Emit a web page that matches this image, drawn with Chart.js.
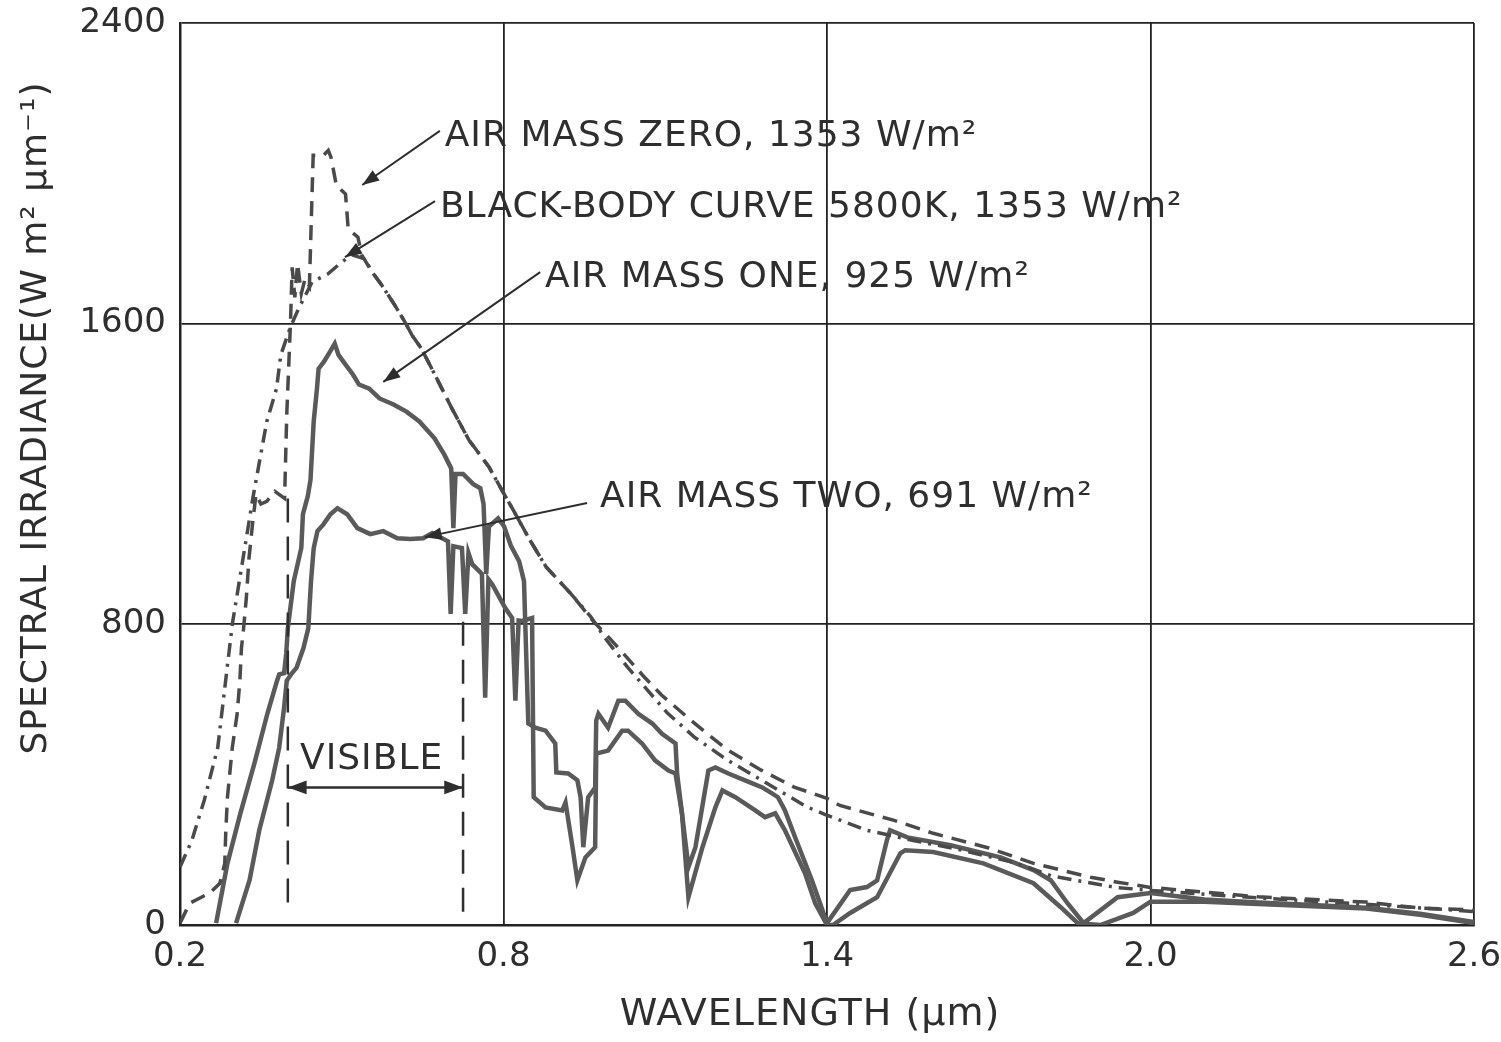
<!DOCTYPE html>
<html>
<head>
<meta charset="utf-8">
<script src="https://cdn.jsdelivr.net/npm/chart.js@4.4.1/dist/chart.umd.min.js"></script>
<style>
  html, body { margin: 0; padding: 0; background: #fff; }
</style>
</head>
<body>
<canvas id="myChart" width="1501" height="1042"></canvas>
<script>
// Spectral irradiance (W m-2 um-1) against wavelength (um)

// Air mass zero (dashed)
const am0Wl  = [0.20, 0.218, 0.237, 0.255, 0.274, 0.283, 0.285, 0.288, 0.297, 0.306, 0.311, 0.314, 0.318, 0.323, 0.328, 0.335, 0.341, 0.35, 0.361, 0.376, 0.394, 0.398, 0.405, 0.408, 0.413, 0.418, 0.425, 0.432, 0.44, 0.447, 0.466, 0.475, 0.48, 0.49, 0.507, 0.512, 0.53, 0.537, 0.556, 0.574, 0.598, 0.617, 0.63, 0.648, 0.671, 0.703, 0.736, 0.773, 0.797, 0.815, 0.849, 0.879, 0.924, 0.968, 1.0, 1.03, 1.061, 1.093, 1.154, 1.215, 1.278, 1.339, 1.40, 1.424, 1.523, 1.597, 1.70, 1.783, 1.889, 1.939, 2.0, 2.2, 2.4, 2.5, 2.6];
const am0Val = [5, 58, 72, 85, 111, 164, 252, 340, 472, 562, 650, 737, 790, 870, 976, 1074, 1146, 1120, 1127, 1154, 1135, 1358, 1605, 1750, 1670, 1760, 1680, 1720, 1700, 2048, 2048, 2061, 2043, 1968, 1945, 1852, 1830, 1783, 1738, 1703, 1650, 1605, 1570, 1533, 1469, 1378, 1290, 1219, 1157, 1112, 1024, 953, 883, 806, 758, 710, 660, 612, 537, 466, 412, 367, 337, 318, 279, 244, 205, 164, 127, 114, 100, 75, 61, 45, 40];

// Black-body curve 5800 K (dash-dot)
const bbWl  = [0.20, 0.222, 0.245, 0.270, 0.297, 0.335, 0.361, 0.379, 0.387, 0.405, 0.42, 0.445, 0.474, 0.50, 0.519, 0.543, 0.556, 0.574, 0.598, 0.617, 0.63, 0.648, 0.671, 0.703, 0.736, 0.773, 0.797, 0.815, 0.849, 0.879, 0.924, 0.962, 0.987, 1.03, 1.067, 1.104, 1.154, 1.215, 1.278, 1.363, 1.40, 1.474, 1.56, 1.647, 1.75, 1.818, 1.936, 2.0, 2.2, 2.4, 2.6];
const bbVal = [154, 225, 332, 472, 800, 1135, 1340, 1427, 1517, 1592, 1640, 1711, 1732, 1764, 1783, 1772, 1738, 1703, 1650, 1605, 1570, 1533, 1469, 1378, 1290, 1219, 1157, 1112, 1024, 953, 883, 820, 766, 686, 625, 564, 500, 439, 386, 314, 292, 252, 225, 200, 165, 130, 100, 92, 72, 55, 36];

// Air mass one (solid, upper)
const am1Wl  = [0.267, 0.288, 0.312, 0.338, 0.362, 0.38, 0.384, 0.393, 0.397, 0.40, 0.411, 0.425, 0.428, 0.437, 0.442, 0.448, 0.454, 0.457, 0.467, 0.478, 0.487, 0.494, 0.503, 0.521, 0.532, 0.551, 0.570, 0.596, 0.620, 0.644, 0.672, 0.690, 0.703, 0.707, 0.711, 0.725, 0.744, 0.757, 0.763, 0.768, 0.773, 0.790, 0.801, 0.814, 0.829, 0.838, 0.846, 0.859, 0.878, 0.896, 0.898, 0.920, 0.937, 0.943, 0.948, 0.957, 0.970, 0.972, 0.976, 0.994, 1.013, 1.026, 1.050, 1.076, 1.094, 1.119, 1.122, 1.131, 1.143, 1.156, 1.180, 1.193, 1.217, 1.248, 1.280, 1.298, 1.309, 1.322, 1.341, 1.372, 1.40, 1.443, 1.474, 1.493, 1.511, 1.517, 1.549, 1.629, 1.722, 1.783, 1.815, 1.846, 1.876, 1.939, 2.0, 2.1, 2.2, 2.3, 2.4, 2.5, 2.6];
const am1Val = [5, 164, 297, 430, 562, 650, 667, 670, 722, 790, 915, 1003, 1093, 1141, 1184, 1340, 1427, 1480, 1499, 1525, 1547, 1517, 1499, 1464, 1438, 1427, 1401, 1385, 1366, 1340, 1295, 1252, 1215, 1056, 1200, 1200, 1173, 1162, 1120, 934, 1060, 1082, 1061, 1008, 968, 915, 536, 525, 517, 483, 406, 403, 385, 340, 207, 340, 366, 544, 562, 525, 597, 597, 562, 536, 509, 483, 403, 297, 154, 207, 411, 419, 403, 385, 366, 350, 340, 305, 233, 119, 5, 93, 101, 119, 225, 252, 233, 212, 180, 146, 119, 58, 5, 74, 85, 68, 60, 53, 46, 30, 8];

// Air mass two (solid, lower)
const am2Wl  = [0.304, 0.329, 0.347, 0.371, 0.384, 0.393, 0.398, 0.407, 0.416, 0.429, 0.438, 0.443, 0.448, 0.455, 0.466, 0.479, 0.492, 0.510, 0.529, 0.553, 0.577, 0.603, 0.627, 0.651, 0.668, 0.697, 0.702, 0.707, 0.723, 0.729, 0.735, 0.742, 0.760, 0.766, 0.772, 0.779, 0.803, 0.816, 0.822, 0.828, 0.835, 0.853, 0.856, 0.878, 0.909, 0.915, 0.928, 0.937, 0.952, 0.970, 0.972, 0.994, 1.020, 1.031, 1.057, 1.081, 1.106, 1.119, 1.131, 1.143, 1.169, 1.193, 1.206, 1.230, 1.267, 1.285, 1.304, 1.322, 1.359, 1.378, 1.40, 1.411, 1.443, 1.493, 1.536, 1.545, 1.597, 1.690, 1.783, 1.833, 1.865, 1.907, 1.968, 2.0, 2.1, 2.2, 2.4, 2.5, 2.6];
const am2Val = [5, 119, 252, 385, 472, 578, 650, 669, 684, 737, 790, 915, 1003, 1048, 1066, 1093, 1109, 1093, 1056, 1040, 1048, 1029, 1027, 1029, 1043, 1021, 828, 1008, 1003, 828, 990, 960, 934, 605, 920, 907, 844, 817, 597, 810, 809, 817, 340, 313, 305, 326, 207, 119, 180, 207, 456, 464, 517, 517, 483, 438, 411, 403, 297, 74, 207, 313, 358, 340, 305, 287, 297, 252, 138, 58, 0, 0, 32, 74, 191, 199, 194, 164, 111, 48, 5, 0, 32, 62, 62, 56, 44, 27, 5];

// visible band limits (um)
const visibleBand = [0.40, 0.725];

// axis ticks
const xTicks = [0.2, 0.8, 1.4, 2.0, 2.6];
const yTicks = [0, 800, 1600, 2400];

const pts = (xs, ys) => xs.map((x, i) => ({x: x, y: ys[i]}));

const ink = "#2e2e2e";
const curve = "#5a5a5a";
const FONT = '"DejaVu Sans", "Liberation Sans", sans-serif';

// labels with their pointer lines, in data coordinates
const notes = [
  {text: "AIR MASS ZERO, 1353 W/m²", at: [0.691, 2097], from: [0.682, 2113], to: [0.538, 1969]},
  {text: "BLACK-BODY CURVE 5800K, 1353 W/m²", at: [0.682, 1910], from: [0.673, 1926], to: [0.506, 1777]},
  {text: "AIR MASS ONE, 925 W/m²", at: [0.877, 1722], from: [0.868, 1737], to: [0.577, 1445]},
  {text: "AIR MASS TWO, 691 W/m²", at: [0.979, 1136], from: [0.955, 1123], to: [0.654, 1032]}
];

function arrowHead(ctx, x1, y1, x2, y2, size) {
  const a = Math.atan2(y2 - y1, x2 - x1);
  ctx.beginPath();
  ctx.moveTo(x2, y2);
  ctx.lineTo(x2 - size * Math.cos(a - 0.35), y2 - size * Math.sin(a - 0.35));
  ctx.lineTo(x2 - size * Math.cos(a + 0.35), y2 - size * Math.sin(a + 0.35));
  ctx.closePath();
  ctx.fill();
}

const annotations = {
  id: "annotations",
  afterDatasetsDraw(chart) {
    const ctx = chart.ctx;
    const xs = chart.scales.x, ys = chart.scales.y;
    const area = chart.chartArea;
    ctx.save();
    ctx.fillStyle = ink;
    ctx.strokeStyle = ink;

    // visible band markers
    ctx.lineWidth = 2.5;
    ctx.setLineDash([24, 14]);
    ctx.beginPath();
    ctx.moveTo(xs.getPixelForValue(visibleBand[0]), ys.getPixelForValue(60));
    ctx.lineTo(xs.getPixelForValue(visibleBand[0]), ys.getPixelForValue(1150));
    ctx.moveTo(xs.getPixelForValue(visibleBand[1]), ys.getPixelForValue(35));
    ctx.lineTo(xs.getPixelForValue(visibleBand[1]), ys.getPixelForValue(820));
    ctx.stroke();
    ctx.setLineDash([]);

    // visible arrow
    const ay = ys.getPixelForValue(366);
    const ax1 = xs.getPixelForValue(visibleBand[0]);
    const ax2 = xs.getPixelForValue(visibleBand[1]);
    ctx.lineWidth = 2.5;
    ctx.beginPath();
    ctx.moveTo(ax1, ay);
    ctx.lineTo(ax2, ay);
    ctx.stroke();
    arrowHead(ctx, ax2, ay, ax1, ay, 20);
    arrowHead(ctx, ax1, ay, ax2, ay, 20);

    ctx.font = "36px " + FONT;
    ctx.letterSpacing = "1px";
    ctx.textBaseline = "middle";
    ctx.textAlign = "left";
    ctx.fillText("VISIBLE", xs.getPixelForValue(0.4226), ys.getPixelForValue(439));

    // curve labels with pointers
    ctx.lineWidth = 2;
    notes.forEach(n => {
      const fx = xs.getPixelForValue(n.from[0]), fy = ys.getPixelForValue(n.from[1]);
      const tx = xs.getPixelForValue(n.to[0]), ty = ys.getPixelForValue(n.to[1]);
      ctx.beginPath();
      ctx.moveTo(fx, fy);
      ctx.lineTo(tx, ty);
      ctx.stroke();
      arrowHead(ctx, fx, fy, tx, ty, 18);
      ctx.fillText(n.text, xs.getPixelForValue(n.at[0]), ys.getPixelForValue(n.at[1]));
    });

    // axis titles
    ctx.font = "38px " + FONT;
    ctx.textAlign = "center";
    ctx.fillText("WAVELENGTH (µm)", 810, 1015);
    ctx.save();
    ctx.translate(area.left - 143, 418);
    ctx.rotate(-Math.PI / 2);
    ctx.font = "36px " + FONT;
    ctx.fillText("SPECTRAL IRRADIANCE(W m² µm⁻¹)", 0, 0);
    ctx.restore();

    ctx.restore();
  }
};

const ctx = document.getElementById("myChart").getContext("2d");
const myChart = new Chart(ctx, {
  type: "line",
  data: {
    datasets: [
      {label: "Air mass zero", data: pts(am0Wl, am0Val), borderColor: "#4a4a4a", borderWidth: 3.5, borderDash: [15, 9]},
      {label: "Black-body 5800K", data: pts(bbWl, bbVal), borderColor: "#4a4a4a", borderWidth: 3.5, borderDash: [14, 7, 3, 7]},
      {label: "Air mass one", data: pts(am1Wl, am1Val), borderColor: curve, borderWidth: 4.5},
      {label: "Air mass two", data: pts(am2Wl, am2Val), borderColor: curve, borderWidth: 4.5}
    ]
  },
  options: {
    responsive: false,
    animation: false,
    layout: {padding: {top: 23, right: 27, bottom: 0, left: 0}},
    elements: {point: {radius: 0}, line: {tension: 0, fill: false}},
    plugins: {legend: {display: false}, tooltip: {enabled: false}, title: {display: false}},
    scales: {
      x: {
        type: "linear",
        min: 0.2,
        max: 2.6,
        afterFit: s => { s.height = 117; s.paddingLeft = 0; s.paddingRight = 0; },
        afterBuildTicks: s => { s.ticks = xTicks.map(v => ({value: v})); },
        ticks: {
          padding: 12,
          color: ink,
          font: {family: FONT, size: 34},
          callback: v => v.toFixed(1)
        },
        grid: {color: "#222", lineWidth: 1.8, drawTicks: false},
        border: {display: true, color: "#222", width: 2.5}
      },
      y: {
        type: "linear",
        min: 0,
        max: 2400,
        afterFit: s => { s.width = 180; s.paddingTop = 0; s.paddingBottom = 0; },
        afterBuildTicks: s => { s.ticks = yTicks.map(v => ({value: v})); },
        ticks: {
          padding: 14,
          color: ink,
          font: {family: FONT, size: 34},
          callback: v => String(v)
        },
        grid: {color: "#222", lineWidth: 1.8, drawTicks: false},
        border: {display: true, color: "#222", width: 2.5}
      }
    }
  },
  plugins: [annotations]
});
</script>
</body>
</html>
